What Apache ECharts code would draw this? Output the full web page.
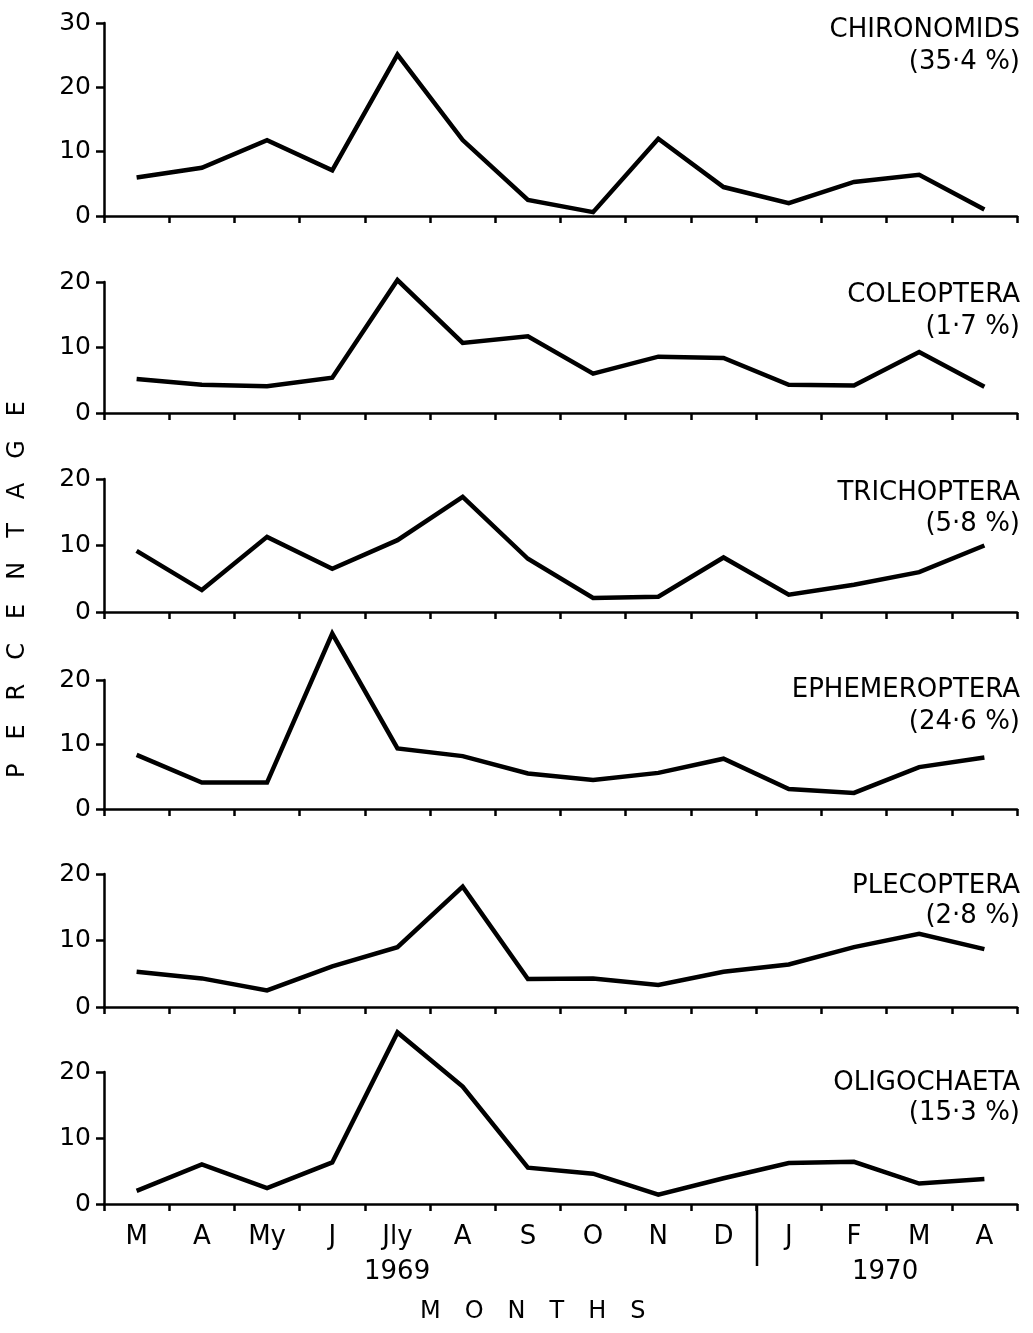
<!DOCTYPE html>
<html><head><meta charset="utf-8">
<script src="https://cdn.jsdelivr.net/npm/echarts@6/dist/echarts.min.js"></script>
<style>html,body{margin:0;padding:0;background:#fff}#c{width:1033px;height:1333px}</style>
</head><body><div id="c"></div>
<script>
// ---- data ----
const months = ['M','A','My','J','Jly','A','S','O','N','D','J','F','M','A'];
const years = ['1969','1970'];
const taxa = ['CHIRONOMIDS','COLEOPTERA','TRICHOPTERA','EPHEMEROPTERA','PLECOPTERA','OLIGOCHAETA'];
const shares = ['(35·4 %)','(1·7 %)','(5·8 %)','(24·6 %)','(2·8 %)','(15·3 %)'];
const chironomids   = [6.0, 7.5, 11.8, 7.1, 25.1, 11.8, 2.5, 0.6, 12.0, 4.5, 2.0, 5.3, 6.4, 1.0];
const coleoptera    = [5.2, 4.3, 4.1, 5.4, 20.3, 10.7, 11.7, 6.0, 8.6, 8.4, 4.3, 4.2, 9.3, 4.0];
const trichoptera   = [9.2, 3.3, 11.3, 6.5, 10.8, 17.3, 8.0, 2.1, 2.3, 8.2, 2.6, 4.1, 6.0, 10.0];
const ephemeroptera = [8.4, 4.1, 4.1, 27.2, 9.4, 8.2, 5.5, 4.5, 5.6, 7.8, 3.1, 2.5, 6.5, 8.0];
const plecoptera    = [5.3, 4.3, 2.5, 6.1, 9.0, 18.1, 4.2, 4.3, 3.3, 5.3, 6.4, 9.0, 11.0, 8.7];
const oligochaeta   = [2.0, 6.0, 2.4, 6.3, 26.0, 17.8, 5.5, 4.6, 1.4, 3.9, 6.2, 6.4, 3.1, 3.8];
const yMax = [30, 20, 20, 20, 20, 20];
const yStep = 10;

// ---- layout ----
const seriesData = [chironomids, coleoptera, trichoptera, ephemeroptera, plecoptera, oligochaeta];
const gridTop = [23, 282, 479, 680, 874, 1072];
const gridH = [193, 131, 133, 129, 133, 132];
const nameCenter = [30, 295, 493, 690, 886, 1083];
const shareCenter = [62, 327, 524, 722, 916, 1113];
const FONT = 'DejaVu Sans';
const BLACK = '#000';

const grids = [], xAxes = [], yAxes = [], series = [], graphics = [];
for (let i = 0; i < 6; i++) {
  grids.push({left: 104, width: 913, top: gridTop[i], height: gridH[i], containLabel: false});
  xAxes.push({
    type: 'category', gridIndex: i, data: months, boundaryGap: true,
    axisLine: {show: true, onZero: false, lineStyle: {color: BLACK, width: 2.5}},
    axisTick: {show: true, alignWithLabel: false, length: 7, lineStyle: {color: BLACK, width: 2.5}},
    axisLabel: {show: i === 5, color: BLACK, fontSize: 26, fontFamily: FONT, margin: 20, interval: 0},
    splitLine: {show: false}
  });
  yAxes.push({
    type: 'value', gridIndex: i, min: 0, max: yMax[i], interval: yStep,
    axisLine: {show: true, lineStyle: {color: BLACK, width: 2.5}},
    axisTick: {show: true, length: 8, lineStyle: {color: BLACK, width: 2.5}},
    axisLabel: {color: BLACK, fontSize: 25, fontFamily: FONT, margin: 13},
    splitLine: {show: false}
  });
  series.push({
    type: 'line', name: taxa[i], xAxisIndex: i, yAxisIndex: i, data: seriesData[i],
    symbol: 'none', clip: false, silent: true,
    lineStyle: {color: BLACK, width: 4.5, join: 'miter'}
  });
  graphics.push(
    {type: 'text', right: 13, top: nameCenter[i] - 15,
     style: {text: taxa[i], fill: BLACK, font: '26px "DejaVu Sans"', lineHeight: 30}},
    {type: 'text', right: 13, top: shareCenter[i] - 15,
     style: {text: shares[i], fill: BLACK, font: '26px "DejaVu Sans"', lineHeight: 30}}
  );
}

graphics.push(
  {type: 'text', left: 364, top: 1259, style: {text: years[0], fill: BLACK, font: '26px "DejaVu Sans"'}},
  {type: 'text', left: 852, top: 1259, style: {text: years[1], fill: BLACK, font: '26px "DejaVu Sans"'}},
  {type: 'line', shape: {x1: 757, y1: 1204, x2: 757, y2: 1266}, style: {stroke: BLACK, lineWidth: 2.5}},
  {type: 'text', left: 420, top: 1300, style: {text: 'M\u2003O\u2003N\u2003T\u2003H\u2003S', fill: BLACK, font: '24px "DejaVu Sans"'}},
  {type: 'text', left: 6, top: 401, rotation: Math.PI / 2,
   style: {text: 'P\u2003E\u2003R\u2003C\u2003E\u2003N\u2003T\u2003A\u2003G\u2003E', fill: BLACK, font: '24px "DejaVu Sans"'}}
);

const chart = echarts.init(document.getElementById('c'), null, {renderer: 'canvas'});
chart.setOption({
  animation: false,
  backgroundColor: '#fff',
  grid: grids, xAxis: xAxes, yAxis: yAxes, series: series,
  graphic: graphics
});
</script></body></html>
